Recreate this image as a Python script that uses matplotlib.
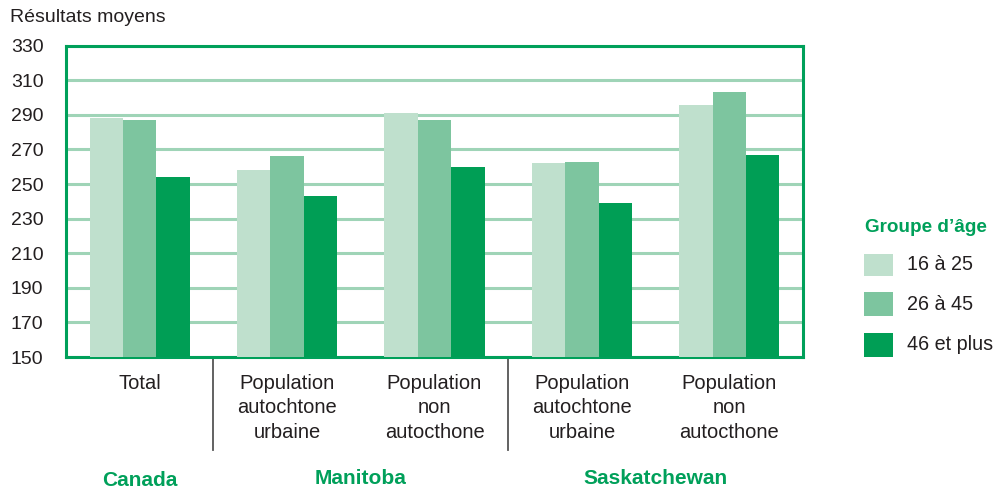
import matplotlib
matplotlib.use("Agg")
import matplotlib.pyplot as plt
import numpy as np
from matplotlib.patches import Rectangle

plt.rcParams['font.family'] = ['Liberation Sans', 'DejaVu Sans']

categories = ["Total", "Population\nautochtone\nurbaine", "Population\nnon\nautocthone",
              "Population\nautochtone\nurbaine", "Population\nnon\nautocthone"]
regions = ["Canada", "Manitoba", "Saskatchewan"]
series_names = ["16 à 25", "26 à 45", "46 et plus"]
age_16_25 = [288, 258, 291, 262, 296]
age_26_45 = [287, 266, 287, 263, 303]
age_46_plus = [254, 243, 260, 239, 267]
yticks = [150, 170, 190, 210, 230, 250, 270, 290, 310, 330]

colors = ["#bfe0cd", "#7dc59f", "#009e55"]
green = "#00a05a"
grid_c = "#9fd4b7"
text_c = "#231f20"

W, H = 1008, 491
fig = plt.figure(figsize=(W / 100, H / 100), dpi=100)
ax = fig.add_axes([66 / W, 1 - 357 / H, (803 - 66) / W, (357 - 45.7) / H])

x = np.arange(len(categories))
w = 0.227
for i, (vals, c) in enumerate(zip([age_16_25, age_26_45, age_46_plus], colors)):
    ax.bar(x + (i - 1) * w, vals, width=w, color=c, zorder=3, linewidth=0)

ax.set_xlim(-0.5, len(categories) - 0.5)
ax.set_ylim(150, 330)
ax.set_yticks(yticks)
ax.set_yticklabels([str(t) for t in yticks], fontsize=14, color=text_c)
for lab in ax.get_yticklabels():
    lab.set_horizontalalignment('left')
ax.tick_params(axis='y', length=0, pad=(66 - 11) * 0.72)
ax.set_xticks(x)
ax.set_xticklabels(categories, fontsize=14.5, color=text_c, linespacing=1.38)
ax.tick_params(axis='x', length=0, pad=12)
ax.grid(axis='y', color=grid_c, linewidth=2.2, zorder=1)
for s in ax.spines.values():
    s.set_color(green)
    s.set_linewidth(2.2)

# separators
for sx in [0.5, 2.5]:
    ax.plot([sx, sx], [0, -0.3], transform=ax.get_xaxis_transform(), color="#555555",
            linewidth=1.3, clip_on=False)

# region labels
fig.text(140 / W, 1 - 481 / H, regions[0], ha='center', va='center',
         fontsize=15, fontweight='bold', color=green)
fig.text(361 / W, 1 - 478 / H, regions[1], ha='center', va='center',
         fontsize=15, fontweight='bold', color=green)
fig.text(655 / W, 1 - 478 / H, regions[2], ha='center', va='center',
         fontsize=15, fontweight='bold', color=green)

fig.text(10 / W, 1 - 18 / H, "Résultats moyens", fontsize=14, color=text_c,
         ha='left', va='center')

# legend (manual)
fig.text(865 / W, 1 - 227 / H, "Groupe d’âge", fontsize=13.6, fontweight='bold',
         color=green, ha='left', va='center')
boxes = [(254, 276), (292, 316), (333, 357)]
for (y0, y1), c, name in zip(boxes, colors, series_names):
    fig.patches.append(Rectangle((864 / W, 1 - y1 / H), 29 / W, (y1 - y0) / H,
                                 transform=fig.transFigure, facecolor=c,
                                 edgecolor='none'))
    fig.text(907 / W, 1 - (y0 + y1) / 2 / H, name, fontsize=14.2, color=text_c,
             ha='left', va='center')

fig.savefig("out.png", dpi=100)
